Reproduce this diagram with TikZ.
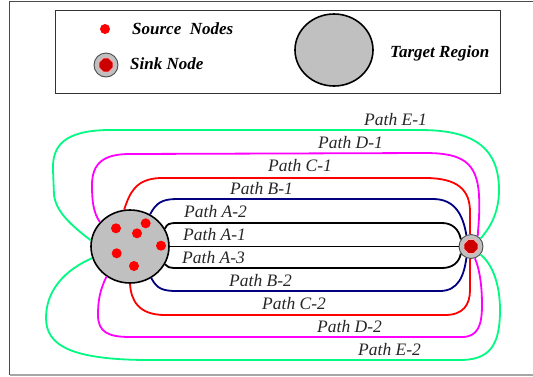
\documentclass[tikz,border=0pt]{standalone}
\usepackage{fontspec}
\setmainfont{Liberation Serif}
\usetikzlibrary{shapes.geometric}
\definecolor{tgray}{RGB}{192,192,192}
\definecolor{pgreen}{RGB}{0,250,130}
\definecolor{pmag}{RGB}{255,0,255}
\definecolor{pred}{RGB}{255,0,0}
\definecolor{pnavy}{RGB}{0,0,128}
\definecolor{sinkred}{RGB}{205,0,0}
\definecolor{sinkring}{RGB}{255,175,175}
\begin{document}
\begin{tikzpicture}[x=1pt,y=-1pt,
  region/.style={ellipse, draw=black, line width=1.6pt, fill=tgray, minimum width=78pt, minimum height=73pt, inner sep=0pt},
  srcdot/.style={circle, fill=pred, minimum size=10pt, inner sep=0pt},
  sinkbase/.style={circle, draw=black!70, line width=0.9pt, fill=tgray, minimum size=24pt, inner sep=0pt},
  sinkcore/.style={regular polygon, regular polygon sides=8, fill=sinkred, draw=sinkring, line width=0.8pt, minimum size=15pt, inner sep=0pt},
  lbl/.style={anchor=base west, font=\itshape\fontsize{17.5}{20}\selectfont, text=black!85, inner sep=0pt},
  leg/.style={anchor=base west, font=\bfseries\itshape\fontsize{17}{20}\selectfont, inner sep=0pt},
  pth/.style={line width=1.8pt}
]
\useasboundingbox (0,0) rectangle (533,376);
% outer frame
\draw[black!70, line width=1pt] (533,1) -- (9.5,1) -- (9.5,375);
\draw[black!35, line width=1.2pt] (9.5,375) -- (533,375);
% legend
\draw[black!80, line width=1pt] (55,10) rectangle (500,93);
\node[srcdot] (legsrc) at (105,29) {};
\node[leg] (legsrctxt) at (132,34) {Source~ Nodes};
\node[sinkbase] (legsink) at (106,65) {};
\node[sinkcore] (legsinkc) at (legsink) {};
\node[leg] (legsinktxt) at (130,69) {Sink Node};
\node[region, minimum height=72pt] (legT) at (334,50) {};
\node[leg] (legTtxt) at (390,57) {Target Region};
% main nodes
\node[region] (T) at (130,246.5) {};
\node[srcdot] (s1) at (116,228.3) {};
\node[srcdot] (s2) at (145.7,223.3) {};
\node[srcdot] (s3) at (137,233.3) {};
\node[srcdot] (s4) at (161,245.7) {};
\node[srcdot] (s5) at (116.7,253.3) {};
\node[srcdot] (s6) at (134,266) {};
\node[sinkbase] (S) at (471,246.5) {};
\node[sinkcore] (Sc) at (S) {};
% paths A
\draw[pth, black] (T.27) .. controls (167,224) and (169,223) .. (177,223) -- (442,223) .. controls (452,223) and (459,229) .. (S.145);
\draw[pth, black] (T.east) -- (S.west);
\draw[pth, black] (T.-27) .. controls (167,267) and (169,268) .. (177,268) -- (442,268) .. controls (452,268) and (459,263) .. (S.-145);
% paths B
\draw[pth, pnavy] (T.58) .. controls (156,203) and (162,199) .. (177,199) -- (433,199) .. controls (455,199) and (463,215) .. (S.112);
\draw[pth, pnavy] (T.-56) .. controls (157,289) and (163,291) .. (177,291) -- (440,291) .. controls (458,291) and (464,276) .. (S.-112);
% paths C
\draw[pth, pred] (T.99) .. controls (130,192) and (136,179) .. (160,178) -- (425,178) .. controls (458,178) and (470,190) .. (470,212) -- (S.95);
\draw[pth, pred] (T.south) .. controls (131,300) and (138,315) .. (165,315) -- (445,315) .. controls (463,315) and (470,305) .. (470,290) -- (S.-95);
% paths D
\draw[pth, pmag] (T.141) .. controls (93,212) and (92,200) .. (92,185) .. controls (92,162) and (105,154) .. (130,154) -- (425,153) .. controls (462,153) and (477,162) .. (479,195) .. controls (480,215) and (478,228) .. (S.57);
\draw[pth, pmag] (T.-128) .. controls (100,290) and (98,300) .. (98,315) .. controls (98,332) and (108,337) .. (130,337) -- (462,337) .. controls (478,337) and (482,325) .. (482,305) .. controls (482,280) and (478,265) .. (S.-72);
% paths E
\draw[pth, pgreen] (T.171) .. controls (72,226) and (56,212) .. (54,195) -- (53,170) .. controls (52,145) and (65,131) .. (107,130) -- (420,130) .. controls (470,130) and (499,145) .. (499,190) .. controls (499,215) and (488,230) .. (S.40);
\draw[pth, pgreen] (T.-163) .. controls (65,270) and (46,290) .. (46,318) .. controls (46,345) and (70,360) .. (150,360) -- (460,360) .. controls (490,360) and (500,345) .. (500,310) .. controls (500,280) and (490,262) .. (S.-40);
% labels
\node[lbl] (lA2) at (184,217) {Path A-2};
\node[lbl] (lA1) at (183,240) {Path A-1};
\node[lbl] (lA3) at (182,263) {Path A-3};
\node[lbl] (lB1) at (230,194) {Path B-1};
\node[lbl] (lC1) at (268,171) {Path C-1};
\node[lbl] (lD1) at (318,148) {Path D-1};
\node[lbl] (lE1) at (364,125) {Path E-1};
\node[lbl] (lB2) at (229,286) {Path B-2};
\node[lbl] (lC2) at (262,309) {Path C-2};
\node[lbl] (lD2) at (317,332) {Path D-2};
\node[lbl] (lE2) at (358,355) {Path E-2};
\end{tikzpicture}
\end{document}
